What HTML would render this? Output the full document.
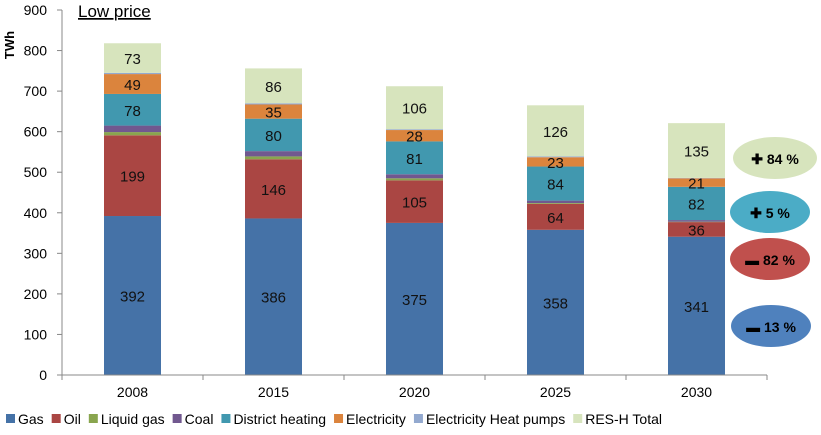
<!DOCTYPE html>
<html><head><meta charset="utf-8"><style>
body{margin:0;background:#fff;}
svg{font-family:"Liberation Sans",sans-serif;}
</style></head><body>
<svg id="c" width="821" height="430" xmlns="http://www.w3.org/2000/svg">
<text x="78" y="17" font-size="17" fill="#000" text-decoration="underline">Low price</text>
<text transform="translate(14,45) rotate(-90)" font-size="13" font-weight="bold" text-anchor="middle">TWh</text>
<g id="plot"></g>
<g>
<ellipse cx="775" cy="158" rx="42" ry="21" fill="#d7e4bd"/>
<text x="775" y="164" font-size="14" font-weight="bold" text-anchor="middle">✚ 84 %</text>
<ellipse cx="770" cy="212" rx="40" ry="21" fill="#4bacc6"/>
<text x="770" y="218" font-size="14" font-weight="bold" text-anchor="middle">✚ 5 %</text>
<ellipse cx="770" cy="259" rx="40" ry="21" fill="#c0504d"/>
<text x="770" y="265" font-size="14" font-weight="bold" text-anchor="middle">▬ 82 %</text>
<ellipse cx="771" cy="326" rx="40" ry="21" fill="#4f81bd"/>
<text x="771" y="332" font-size="14" font-weight="bold" text-anchor="middle">▬ 13 %</text>
</g>
<g id="legend"></g>
</svg>
<script>
const categories=["2008","2015","2020","2025","2030"];
const seriesNames=["Gas","Oil","Liquid gas","Coal","District heating","Electricity","Electricity Heat pumps","RES-H Total"];
const gas=[392,386,375,358,341];
const oil=[199,146,105,64,36];
const liquidGas=[8,7,5,2,1];
const coal=[16,13,10,6,4];
const districtHeating=[78,80,81,84,82];
const electricity=[49,35,28,23,21];
const heatPumps=[3,3,2,2,1];
const resH=[73,86,106,126,135];
const yTicks=[0,100,200,300,400,500,600,700,800,900];
const series=[gas,oil,liquidGas,coal,districtHeating,electricity,heatPumps,resH];
const labeled=[true,true,false,false,true,true,false,true];
const colors=["#4572a7","#aa4643","#89a54e","#71588f","#4198af","#db843d","#93a9cf","#d7e4bd"];
const NS="http://www.w3.org/2000/svg";
const x0=62,catW=141,y0=375,yMax=900,yTop=10,barW=57;
const yS=v=>y0-(v/yMax)*(y0-yTop);
const xC=i=>x0+catW*(i+0.5);
const plot=document.getElementById('plot');
function mk(t,a,p){const e=document.createElementNS(NS,t);for(const k in a)e.setAttribute(k,a[k]);(p||plot).appendChild(e);return e;}
yTicks.forEach(t=>{
 const tx=mk('text',{x:47,y:yS(t)+5,'font-size':14,'text-anchor':'end'});
 tx.textContent=t;
 
 
 const tk=mk('line',{x1:57,x2:62,y1:yS(t),y2:yS(t),stroke:'#888'});
 
 
});
const ya=mk('line',{x1:62,x2:62,y1:yTop,y2:y0,stroke:'#888'});


categories.forEach((c,i)=>{
 let acc=0;
 series.forEach((s,j)=>{
  const v=s[i];const yt=yS(acc+v),yb=yS(acc);
  const r=mk('rect',{x:xC(i)-barW/2,y:yt,width:barW,height:yb-yt,fill:colors[j]});
  
  
  if(labeled[j]){
   const t=mk('text',{x:xC(i),y:(yt+yb)/2+6,'font-size':15,'text-anchor':'middle',fill:'#111'});
   t.textContent=v;
   
   
  }
  acc+=v;
 });
 const l=mk('text',{x:xC(i),y:397,'font-size':14,'text-anchor':'middle'});
 l.textContent=c;
 
 
});
for(let i=0;i<=categories.length;i++){
 const tk=mk('line',{x1:x0+catW*i,x2:x0+catW*i,y1:y0,y2:y0+5,stroke:'#888'});
 
 
}
const xa=mk('line',{x1:x0,x2:x0+catW*5,y1:y0,y2:y0,stroke:'#888'});


const lg=document.getElementById('legend');


let lx=6;
seriesNames.forEach((n,j)=>{
 const r=mk('rect',{x:lx,y:414,width:9,height:9,fill:colors[j]},lg);
 
 
 const t=mk('text',{x:lx+12,y:424,'font-size':14},lg);
 t.textContent=n;
 
 
 lx+=12+t.getComputedTextLength()+8;
});
</script>
</body></html>
